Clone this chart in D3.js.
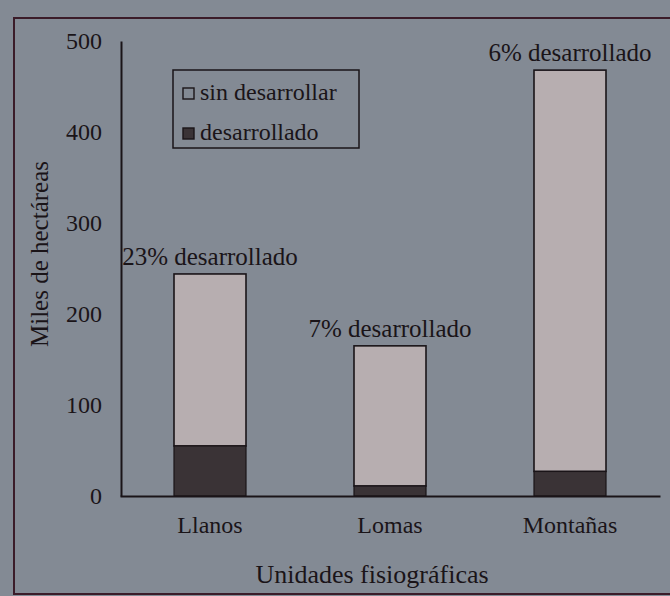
<!DOCTYPE html>
<html>
<head>
<meta charset="utf-8">
<script src="https://cdn.jsdelivr.net/npm/d3@7"></script>
<style>
  html, body { margin: 0; padding: 0; background: #838a94; }
  svg { display: block; }
</style>
</head>
<body>
<svg id="chart" width="670" height="596"></svg>
<script>
const categories = ["Llanos", "Lomas", "Montañas"];
const desarrollado = [55, 11, 27];
const sinDesarrollar = [189, 154, 441];
const barLabels = ["23% desarrollado", "7% desarrollado", "6% desarrollado"];
const yTicks = [0, 100, 200, 300, 400, 500];
const legendLabels = ["sin desarrollar", "desarrollado"];
const yTitle = "Miles de hectáreas";
const xTitle = "Unidades fisiográficas";

const W = 670, H = 596;
const FONT = "'Liberation Serif', 'Times New Roman', 'DejaVu Serif', serif";
const svg = d3.select("#chart");
const ink = "#1a1418";
const lightFill = "#b7aeb0";
const darkFill = "#3a3336";

function styleText(sel, size) {
  return sel.style("font-family", FONT).style("font-size", size + "px").style("fill", ink);
}

// background + outer frame
svg.append("rect").attr("x", 0).attr("y", 0).attr("width", W).attr("height", H).attr("fill", "#838a94");
svg.append("rect").attr("x", 14).attr("y", 18).attr("width", 670).attr("height", 576)
  .attr("fill", "none").attr("stroke", "#3b1c29").attr("stroke-width", 2);

const x = d3.scaleBand().domain(categories).range([120, 660]).paddingInner(0.6).paddingOuter(0.3);
const y = d3.scaleLinear().domain([0, 500]).range([496, 41]);

const data = categories.map((c, i) => ({
  cat: c, dev: desarrollado[i], sin: sinDesarrollar[i], total: desarrollado[i] + sinDesarrollar[i], label: barLabels[i]
}));

// bars
const g = svg.append("g");
g.selectAll(".sin").data(data).join("rect")
  .attr("x", d => x(d.cat)).attr("width", x.bandwidth())
  .attr("y", d => y(d.total)).attr("height", d => y(d.dev) - y(d.total))
  .attr("fill", lightFill).attr("stroke", ink).attr("stroke-width", 1.6);
g.selectAll(".dev").data(data).join("rect")
  .attr("x", d => x(d.cat)).attr("width", x.bandwidth())
  .attr("y", d => y(d.dev)).attr("height", d => y(0) - y(d.dev))
  .attr("fill", darkFill).attr("stroke", ink).attr("stroke-width", 1.2);

// bar labels
styleText(g.selectAll(".blab").data(data).join("text")
  .attr("x", d => x(d.cat) + x.bandwidth() / 2)
  .attr("y", d => y(d.total) - 9)
  .attr("text-anchor", "middle")
  .text(d => d.label), 25);

// y axis
const yAxis = d3.axisLeft(y).tickValues(yTicks).tickSize(0).tickPadding(19).tickFormat(d3.format("d"));
const ya = svg.append("g").attr("transform", "translate(121,0)").call(yAxis);
ya.select(".domain").attr("stroke", ink).attr("stroke-width", 2);
styleText(ya.selectAll("text"), 24);

// x axis
const xAxis = d3.axisBottom(x).tickSize(0).tickPadding(20);
const xa = svg.append("g").attr("transform", "translate(0,496)").call(xAxis);
xa.select(".domain").attr("stroke", ink).attr("stroke-width", 2);
styleText(xa.selectAll("text"), 24);

// axis titles
styleText(svg.append("text").attr("transform", "translate(48,254) rotate(-90)")
  .attr("text-anchor", "middle").text(yTitle), 25);
styleText(svg.append("text").attr("x", 372).attr("y", 583)
  .attr("text-anchor", "middle").text(xTitle), 26);

// legend
const lg = svg.append("g").attr("transform", "translate(173,70)");
lg.append("rect").attr("width", 186).attr("height", 78).attr("fill", "none").attr("stroke", ink).attr("stroke-width", 1.5);
const fills = ["none", darkFill];
legendLabels.forEach((t, i) => {
  const row = lg.append("g").attr("transform", `translate(10,${22 + i * 40})`);
  row.append("rect").attr("x", 0).attr("y", -4).attr("width", 11).attr("height", 11)
    .attr("fill", fills[i]).attr("stroke", ink).attr("stroke-width", 1.4);
  styleText(row.append("text").attr("x", 17).attr("y", 8).text(t), 24);
});
</script>
</body>
</html>
